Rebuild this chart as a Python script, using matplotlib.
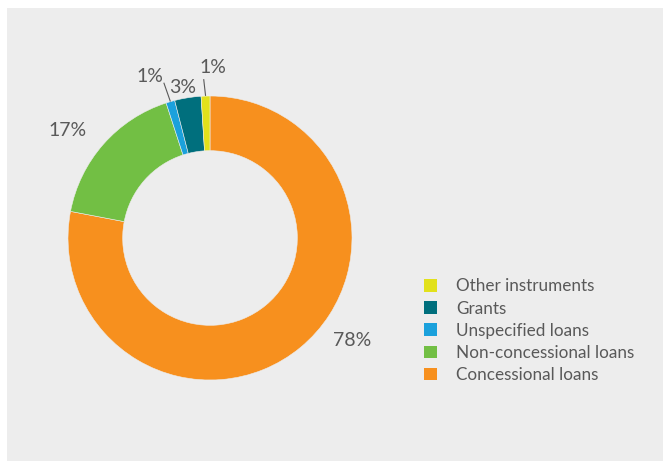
import numpy as np
import matplotlib
matplotlib.use("Agg")
import matplotlib.pyplot as plt
from matplotlib.patches import Rectangle

plt.rcParams['font.family'] = ['Lato', 'DejaVu Sans']

categories = ["Concessional loans", "Non-concessional loans", "Unspecified loans",
              "Grants", "Other instruments"]
values = [78, 17, 1, 3, 1]
labels = ["78%", "17%", "1%", "3%", "1%"]
colors = ["#F7901E", "#72BF44", "#1BA1DC", "#006F7D", "#E2E11B"]

TXT = "#595959"
W, H = 663, 461
fig = plt.figure(figsize=(W / 100, H / 100), dpi=100)
fig.patch.set_facecolor("white")
fig.patches.append(Rectangle((7 / W, 0), 1 - 7 / W, (H - 8) / H, transform=fig.transFigure,
                             facecolor="#EDEDED", edgecolor="none", zorder=-5))

cx, cy, R = 210, 238, 142
ax = fig.add_axes([(cx - R) / W, (H - cy - R) / H, 2 * R / W, 2 * R / H])
ax.set_zorder(2)
ax.set_facecolor("none")
wedges, _ = ax.pie(values, colors=colors, startangle=90, counterclock=False,
                   radius=1.0, wedgeprops=dict(width=0.385, edgecolor="#EDEDED", linewidth=0.4))
ax.set_xlim(-1, 1)
ax.set_ylim(-1, 1)
ax.set_aspect("equal")
ax.axis("off")

# label placement in units of the outer radius; optional leader-line end point
label_pos = [(1.0, -0.72), (-1.0, 0.754), (-0.42, 1.135), (-0.19, 1.06), (0.02, 1.20)]
leader_end = [None, None, (-0.324, 1.09), None, (-0.044, 1.115)]
for w, lab, (x, y), le in zip(wedges, labels, label_pos, leader_end):
    ax.text(x, y, lab, ha="center", va="center", fontsize=14, color=TXT, clip_on=False)
    if le is not None:
        m0 = np.deg2rad((w.theta1 + w.theta2) / 2)
        ax.plot([1.005 * np.cos(m0), le[0]], [1.005 * np.sin(m0), le[1]],
                color=TXT, lw=0.8, clip_on=False)

handles = [Rectangle((0, 0), 1, 1, facecolor=c, edgecolor="none") for c in colors]
leg = fig.legend(handles[::-1], categories[::-1], loc="upper left",
                 bbox_to_anchor=(409 / W, 1 - 263 / H), frameon=False,
                 fontsize=12.3, labelcolor=TXT, handlelength=0.75, handleheight=0.75,
                 handletextpad=1.1, labelspacing=0.36)

fig.savefig("out.png", dpi=100, facecolor=fig.get_facecolor())
